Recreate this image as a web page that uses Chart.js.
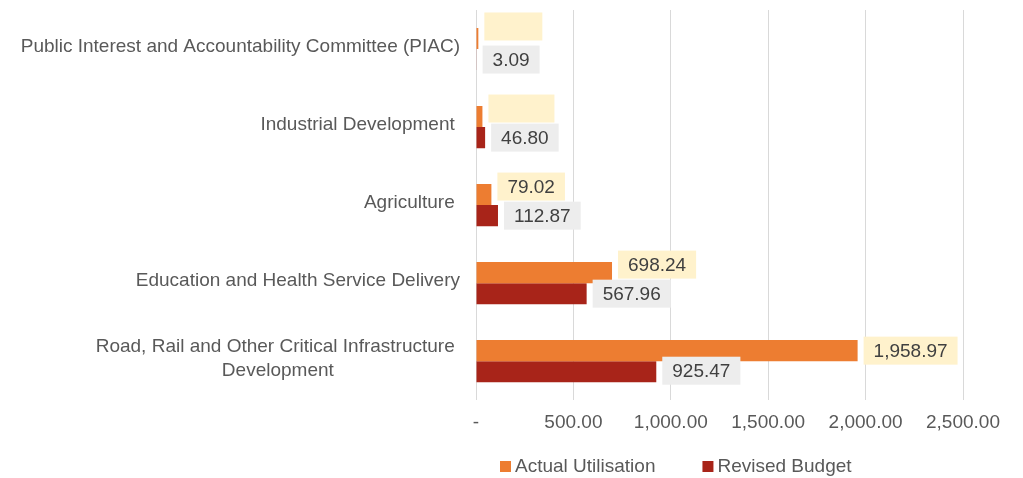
<!DOCTYPE html>
<html>
<head>
    <title>Actual Utilisation vs Revised Budget</title>
    <script src="https://cdn.jsdelivr.net/npm/chart.js"></script>
    <style>
        body { margin: 0; background: #fff; }
        #wrap { width: 1023px; height: 478px; position: relative; }
    </style>
</head>
<body>
    <div id="wrap"><canvas id="chart"></canvas></div>

    <script>
        // categories, top to bottom (trailing spaces are part of the original labels)
        var categories = [
            'Public Interest and Accountability Committee (PIAC)',
            'Industrial Development ',
            'Agriculture ',
            'Education and Health Service Delivery',
            ['Road, Rail and Other Critical Infrastructure ', 'Development']
        ];
        var actualUtilisation = [12, 33, 79.02, 698.24, 1958.97];
        var revisedBudget = [3.09, 46.80, 112.87, 567.96, 925.47];

        // data labels as shown in the chart (first two actual labels are empty)
        var actualLabels = ['', '', '79.02', '698.24', '1,958.97'];
        var revisedLabels = ['3.09', '46.80', '112.87', '567.96', '925.47'];

        var xTicks = [0, 500, 1000, 1500, 2000, 2500];

        var FONT = '"Liberation Sans", Arial, sans-serif';
        Chart.defaults.font.family = FONT;
        Chart.defaults.font.size = 19;
        Chart.defaults.color = '#595959';

        function fmt(v) {
            if (v === 0) return '-';
            return v.toLocaleString('en-US', { minimumFractionDigits: 2, maximumFractionDigits: 2 });
        }

        // boxes with values next to the bars
        var valueBoxes = {
            id: 'valueBoxes',
            afterDatasetsDraw: function (chart) {
                var ctx = chart.ctx;
                ctx.save();
                ctx.font = '19px ' + FONT;
                ctx.textAlign = 'center';
                ctx.textBaseline = 'middle';
                var blankW = [58, 66];
                var sets = [
                    { meta: chart.getDatasetMeta(0), texts: actualLabels, bg: '#FFF2CC', shift: [-12, -8, -8, -8, 0] },
                    { meta: chart.getDatasetMeta(1), texts: revisedLabels, bg: '#EDEDED', shift: [0, 0, 0, 0, -1] }
                ];
                sets.forEach(function (s) {
                    s.meta.data.forEach(function (bar, i) {
                        var t = s.texts[i];
                        var w = t ? ctx.measureText(t).width + 20 : blankW[i];
                        var x = bar.x + 6;
                        var y = bar.y + s.shift[i];
                        ctx.fillStyle = s.bg;
                        ctx.fillRect(x, y - 14, w, 28);
                        if (t) {
                            ctx.fillStyle = '#404040';
                            ctx.fillText(t, x + w / 2, y + 1);
                        }
                    });
                });
                ctx.restore();
            }
        };

        // category names, block right aligned, lines centred
        var categoryLabels = {
            id: 'categoryLabels',
            afterDraw: function (chart) {
                var ctx = chart.ctx;
                var ys = chart.scales.y;
                ctx.save();
                ctx.font = '19px ' + FONT;
                ctx.fillStyle = '#595959';
                ctx.textAlign = 'center';
                ctx.textBaseline = 'middle';
                chart.data.labels.forEach(function (c, i) {
                    var lines = Array.isArray(c) ? c : [c];
                    var bw = Math.max.apply(null, lines.map(function (l) { return ctx.measureText(l).width; }));
                    var cy = ys.getPixelForValue(i) - 2;
                    lines.forEach(function (l, j) {
                        var y = cy + (j - (lines.length - 1) / 2) * 24;
                        ctx.fillText(l, 460 - bw / 2, y);
                    });
                });
                ctx.restore();
            }
        };

        // legend at the bottom
        var bottomLegend = {
            id: 'bottomLegend',
            afterDraw: function (chart) {
                var ctx = chart.ctx;
                ctx.save();
                ctx.font = '19px ' + FONT;
                ctx.textBaseline = 'middle';
                ctx.textAlign = 'left';
                var x = 500, y = 466;
                chart.data.datasets.forEach(function (ds) {
                    ctx.fillStyle = ds.backgroundColor;
                    ctx.fillRect(x, y - 5, 11, 11);
                    ctx.fillStyle = '#595959';
                    ctx.fillText(ds.label, x + 15, y + 1);
                    x += 15 + ctx.measureText(ds.label).width + 47;
                });
                ctx.restore();
            }
        };

        var ctx = document.getElementById('chart').getContext('2d');
        new Chart(ctx, {
            type: 'bar',
            data: {
                labels: categories,
                datasets: [
                    {
                        label: 'Actual Utilisation',
                        data: actualUtilisation,
                        backgroundColor: '#ED7D31',
                        categoryPercentage: 0.54,
                        barPercentage: 1.0
                    },
                    {
                        label: 'Revised Budget',
                        data: revisedBudget,
                        backgroundColor: '#A82419',
                        categoryPercentage: 0.54,
                        barPercentage: 1.0
                    }
                ]
            },
            options: {
                indexAxis: 'y',
                responsive: true,
                maintainAspectRatio: false,
                animation: false,
                layout: { padding: { top: 10, right: 60, bottom: 33, left: 0 } },
                plugins: {
                    legend: { display: false },
                    tooltip: { enabled: false }
                },
                scales: {
                    x: {
                        min: 0,
                        max: 2500,
                        afterBuildTicks: function (scale) {
                            scale.ticks = xTicks.map(function (v) { return { value: v }; });
                        },
                        ticks: {
                            padding: 11,
                            color: '#595959',
                            callback: function (v) { return fmt(v); }
                        },
                        grid: { color: '#D9D9D9', lineWidth: 1, drawTicks: false },
                        border: { display: false }
                    },
                    y: {
                        ticks: { display: false },
                        grid: { display: false },
                        border: { display: false },
                        afterFit: function (scale) { scale.width = 476; }
                    }
                }
            },
            plugins: [valueBoxes, categoryLabels, bottomLegend]
        });
    </script>
</body>
</html>
